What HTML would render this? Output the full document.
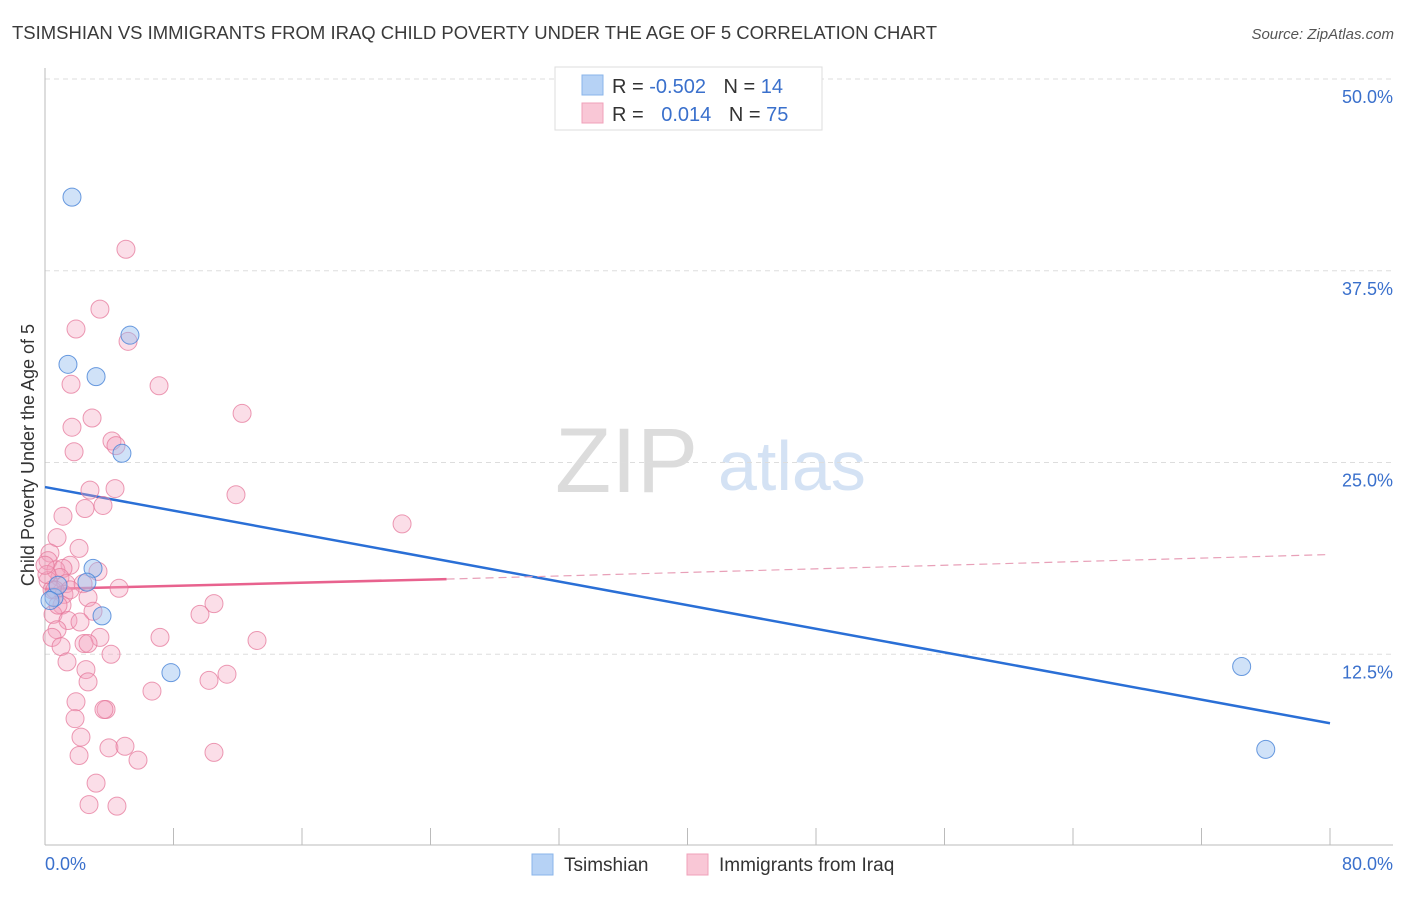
<!DOCTYPE html>
<html><head><meta charset="utf-8"><style>
body{margin:0;background:#fff;font-family:"Liberation Sans",sans-serif;}
svg text{font-family:"Liberation Sans",sans-serif;}
</style></head><body>
<svg id="chart" width="1406" height="892" xmlns="http://www.w3.org/2000/svg">
<text x="12" y="39" font-size="18" fill="#3a3a3a" textLength="925" lengthAdjust="spacingAndGlyphs">TSIMSHIAN VS IMMIGRANTS FROM IRAQ CHILD POVERTY UNDER THE AGE OF 5 CORRELATION CHART</text>
<text x="1394" y="39" font-size="15" fill="#555" text-anchor="end" font-style="italic">Source: ZipAtlas.com</text>
<g>
<text x="555" y="492" font-size="92" fill="#dcdcdc" font-family="Liberation Serif, serif">ZIP</text>
<text x="718" y="490" font-size="70" fill="#d4e2f4">atlas</text>
</g>
<g id="grid"></g><g id="axes"></g><g id="lines"></g><g id="pts"></g>
<text transform="translate(34,455) rotate(-90)" font-size="18" fill="#333" text-anchor="middle">Child Poverty Under the Age of 5</text>
<g>
<rect x="555" y="67" width="267" height="63" fill="#fff" stroke="#ddd"/>
<rect x="582" y="75" width="21" height="20" fill="#b6d2f5" stroke="#8ab4ea"/>
<rect x="582" y="103" width="21" height="20" fill="#f9c7d6" stroke="#f0a0ba"/>
<text x="612" y="93" font-size="20" fill="#333">R = <tspan fill="#3a70cc">-0.502</tspan>  <tspan dx="12">N = </tspan><tspan fill="#3a70cc">14</tspan></text>
<text x="612" y="121" font-size="20" fill="#333">R = <tspan fill="#3a70cc" dx="12">0.014</tspan>  <tspan dx="12">N = </tspan><tspan fill="#3a70cc">75</tspan></text>
</g>
<g>
<rect x="532" y="854" width="21" height="21" fill="#b6d2f5" stroke="#8ab4ea"/>
<text x="564" y="871" font-size="19" fill="#333">Tsimshian</text>
<rect x="687" y="854" width="21" height="21" fill="#f9c7d6" stroke="#f0a0ba"/>
<text x="719" y="871" font-size="19" fill="#333">Immigrants from Iraq</text>
</g>
</svg>
<script>
const yTicks=[12.5,25,37.5,50];
const yTickLabels=["12.5%","25.0%","37.5%","50.0%"];
const xTicks=[0,8,16,24,32,40,48,56,64,72,80];
const xEndLabels=["0.0%","80.0%"];
const blueX=[1.68,1.43,3.18,5.29,4.79,2.99,2.61,0.56,3.55,7.84,74.5,76.0,0.81,0.31];
const blueY=[42.3,31.4,30.6,33.3,25.6,18.1,17.2,16.2,15.0,11.3,11.7,6.3,17.0,16.0];
const pinkX=[5.04,3.42,1.93,5.17,1.62,7.10,2.93,12.27,1.68,4.17,4.42,1.81,11.89,2.80,4.36,2.49,3.61,1.12,22.23,0.75,2.12,0.31,0.19,1.56,0.68,1.12,3.30,0.93,0.19,1.31,2.37,4.61,0.44,1.18,2.68,10.52,9.65,1.06,2.99,0.50,1.43,2.18,0.75,7.16,3.42,0.44,13.20,2.43,2.68,1.00,4.11,1.37,2.55,11.33,10.21,2.68,6.66,1.93,1.87,3.80,3.67,2.24,3.98,4.98,2.12,5.79,10.52,3.18,2.74,4.48,0.62,0.12,0.81,1.56,0.0];
const pinkY=[38.9,35.0,33.7,32.9,30.1,30.0,27.9,28.2,27.3,26.4,26.1,25.7,22.9,23.2,23.3,22.0,22.2,21.5,21.0,20.1,19.4,19.1,18.6,18.3,18.0,18.1,17.9,17.5,17.3,17.1,17.1,16.8,16.7,16.4,16.2,15.8,15.1,15.7,15.3,15.1,14.7,14.6,14.1,13.6,13.6,13.6,13.4,13.2,13.2,13.0,12.5,12.0,11.5,11.2,10.8,10.7,10.1,9.4,8.3,8.9,8.9,7.1,6.4,6.5,5.9,5.6,6.1,4.1,2.7,2.6,16.7,17.7,15.7,16.7,18.3];
const blueTrend=[[0,23.4],[80,8.0]];
const pinkTrendSolid=[[0,16.75],[25,17.4]];
const pinkTrendDash=[[25,17.4],[80,19.0]];
const NS="http://www.w3.org/2000/svg";
const sx=v=>45+v/80*1285;
const sy=v=>846-v*15.34;
function mk(tag,attrs,parent){const e=document.createElementNS(NS,tag);for(const k in attrs)e.setAttribute(k,attrs[k]);document.getElementById(parent).appendChild(e);return e;}
yTicks.forEach((t,i)=>{
 const g=mk('line',{x1:45,x2:1393,y1:sy(t),y2:sy(t),stroke:'#ddd','stroke-dasharray':'5,4'},'grid');
 
 
 const l=mk('text',{x:1393,y:sy(t)+24,'font-size':18,fill:'#3a70cc','text-anchor':'end'},'grid');
 
 
 l.textContent=yTickLabels[i];
});
const ax=mk('line',{x1:45,x2:1393,y1:845,y2:845,stroke:'#bbb'},'axes');


const ay=mk('line',{x1:45,x2:45,y1:68,y2:845,stroke:'#bbb'},'axes');


xTicks.forEach(t=>{
 const e=mk('line',{x1:sx(t),x2:sx(t),y1:828,y2:845,stroke:'#bbb'},'axes');
 
 
});
const xl0=mk('text',{x:45,y:870,'font-size':18,fill:'#3a70cc'},'axes');


xl0.textContent=xEndLabels[0];
const xl1=mk('text',{x:1393,y:870,'font-size':18,fill:'#3a70cc','text-anchor':'end'},'axes');


xl1.textContent=xEndLabels[1];
pinkX.forEach((x,i)=>{
 const c=mk('circle',{cx:sx(x),cy:sy(pinkY[i]),r:9,fill:'rgba(244,160,188,0.35)',stroke:'rgba(230,120,155,0.75)','stroke-width':1},'pts');
 
 
});
blueX.forEach((x,i)=>{
 const c=mk('circle',{cx:sx(x),cy:sy(blueY[i]),r:9,fill:'rgba(150,190,240,0.45)',stroke:'rgba(70,130,215,0.8)','stroke-width':1},'pts');
 
 
});
const bt=mk('line',{x1:sx(blueTrend[0][0]),y1:sy(blueTrend[0][1]),x2:sx(blueTrend[1][0]),y2:sy(blueTrend[1][1]),stroke:'#2a6fd6','stroke-width':2.5},'lines');


const pt=mk('line',{x1:sx(pinkTrendSolid[0][0]),y1:sy(pinkTrendSolid[0][1]),x2:sx(pinkTrendSolid[1][0]),y2:sy(pinkTrendSolid[1][1]),stroke:'#e8628e','stroke-width':2.5},'lines');


const pd=mk('line',{x1:sx(pinkTrendDash[0][0]),y1:sy(pinkTrendDash[0][1]),x2:sx(pinkTrendDash[1][0]),y2:sy(pinkTrendDash[1][1]),stroke:'#e8a0b8','stroke-width':1.2,'stroke-dasharray':'8,5'},'lines');


</script>
</body></html>
